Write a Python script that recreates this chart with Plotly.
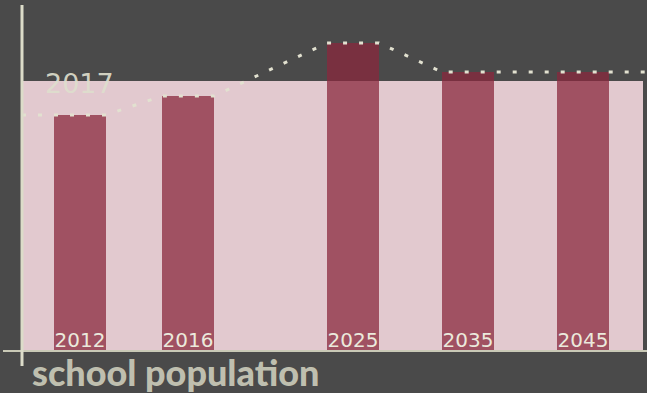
import plotly.graph_objects as go

# ---- data ----
years = ["2012", "2016", "2025", "2035", "2045"]
population = [236, 255, 308, 279, 279]      # bar heights (relative units)
x_pos = [58, 166, 331, 446, 561]              # bar slot positions along x
bar_width = 52

ref_label = "2017"
ref_value = 270
ref_span = [0, 621]

x_range = [0, 625]
y_range = [0, 346]

title_text = "school population"

BG = "#4a4a4a"
PINK = "#e2c9cf"
BAR = "rgba(138,40,61,0.75)"
CREAM = "#e2e1d0"

fig = go.Figure()

# reference (2017) full-width band
fig.add_trace(go.Bar(
    x=[(ref_span[0] + ref_span[1]) / 2], y=[ref_value],
    width=[ref_span[1] - ref_span[0]],
    marker=dict(color=PINK, line=dict(width=0)),
    hoverinfo="skip", showlegend=False,
))

# year bars
fig.add_trace(go.Bar(
    x=x_pos, y=population, width=[bar_width] * len(x_pos),
    marker=dict(color=BAR, line=dict(width=0)),
    showlegend=False,
))

# dotted outline line along bar tops
lx = [x_range[0]]
ly = [population[0]]
for p, v in zip(x_pos, population):
    lx += [p - bar_width / 2, p + bar_width / 2]
    ly += [v, v]
lx.append(x_range[1])
ly.append(population[-1])
fig.add_trace(go.Scatter(
    x=lx, y=ly, mode="lines",
    line=dict(color=CREAM, width=3, dash="4px,12px"),
    hoverinfo="skip", showlegend=False,
))

fig.add_annotation(
    x=ref_span[0], y=ref_value, xref="x", yref="y",
    text=ref_label, showarrow=False, xanchor="left", yanchor="middle",
    xshift=21, yshift=-2,
    font=dict(family="DejaVu Sans", size=27, weight=400, color="rgba(222,222,205,0.92)"),
)

fig.add_annotation(
    x=8 / 625, y=0.010, xref="paper", yref="paper",
    text=title_text, showarrow=False, xanchor="left", yanchor="top",
    font=dict(family="Lato", size=36, weight=900, color="#bfbfaf"),
)

# extended axis lines
fig.add_shape(type="line", xref="paper", yref="paper",
              x0=-19 / 625, x1=1, y0=0, y1=0,
              line=dict(color="#c9c9b6", width=2), layer="above")
fig.add_shape(type="line", xref="paper", yref="paper",
              x0=0, x1=0, y0=-15 / 346, y1=1,
              line=dict(color="#dcdcc9", width=3), layer="above")

fig.update_layout(
    width=647, height=393,
    margin=dict(l=22, r=0, t=5, b=42),
    paper_bgcolor=BG, plot_bgcolor=BG,
    barmode="overlay", bargap=0,
    xaxis=dict(range=x_range, showgrid=False, zeroline=False, showline=False,
               tickvals=x_pos, ticktext=years, ticks="",
               ticklabelposition="inside", ticklabelstandoff=-3,
               tickfont=dict(family="DejaVu Sans", size=20, weight=400, color="#ebe9dc")),
    yaxis=dict(range=y_range, showgrid=False, zeroline=False, showline=False,
               showticklabels=False, ticks=""),
)

fig.write_html("out.html")
